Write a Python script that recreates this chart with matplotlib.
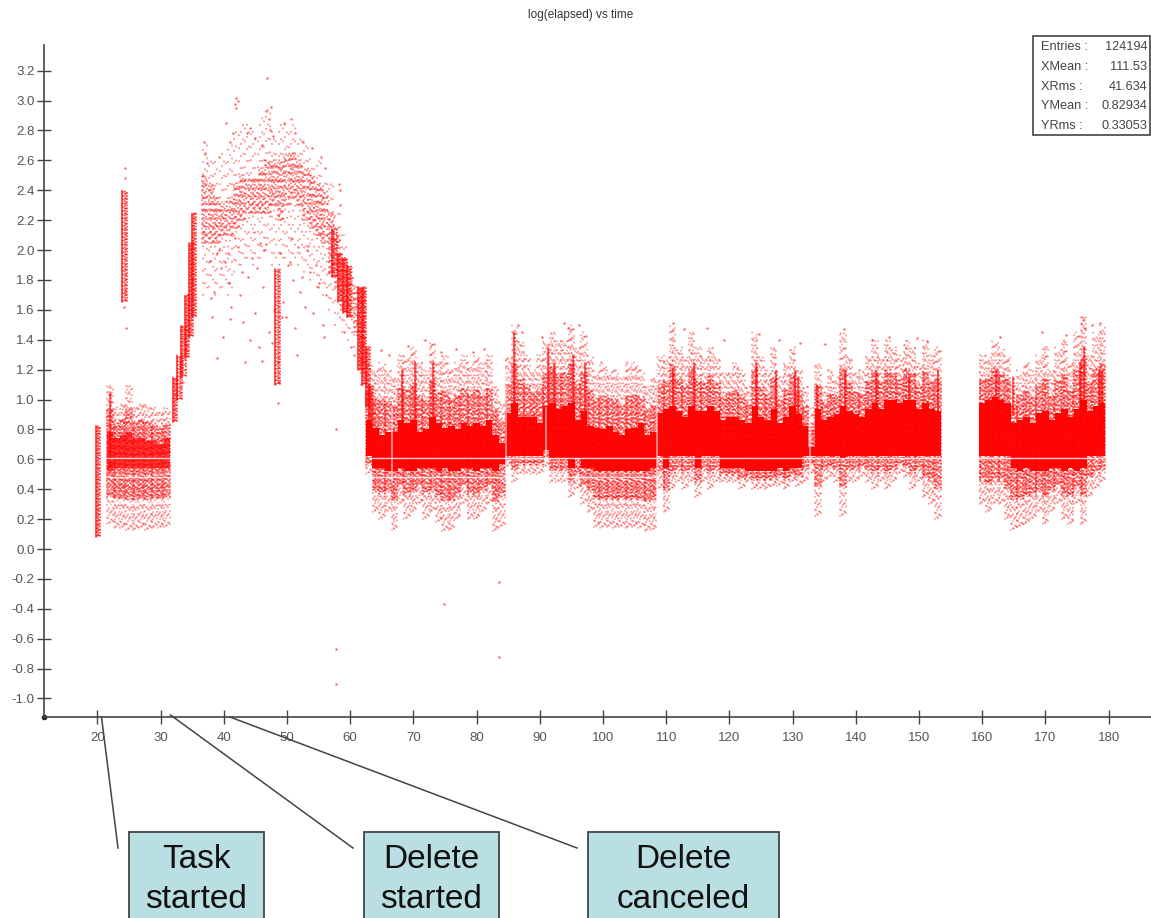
import numpy as np
import matplotlib
matplotlib.use("Agg")
import matplotlib.pyplot as plt
from matplotlib.patches import Rectangle
from matplotlib.lines import Line2D

W, H = 1151, 918
plt.rcParams['font.family'] = ['Liberation Sans', 'DejaVu Sans']

# The cloud has about 124000 points, far too many to read one by one, so the
# dense part is kept as column envelopes (per time unit),
# and the isolated points are listed on their own.
band_x = list(range(22, 32)) + list(range(63, 154)) + list(range(160, 180))
sparse_hi = [1.10, 0.95, 0.98, 1.10, 0.95, 0.98, 0.98, 0.95, 0.92, 0.95,
    1.25, 1.20, 1.25, 1.20, 1.15, 1.30, 1.30, 1.35, 1.25, 1.20, 1.38, 1.25, 1.30, 1.20, 1.25, 1.30, 1.25, 1.30, 1.25, 1.30, 1.10, 1.00,
    1.30, 1.50, 1.40, 1.30, 1.20, 1.30, 1.40, 1.45, 1.40, 1.40, 1.50, 1.35, 1.45, 1.30, 1.20, 1.25, 1.20, 1.20, 1.15, 1.25, 1.25, 1.20, 1.10, 1.15,
    1.30, 1.30, 1.50, 1.35, 1.30, 1.45, 1.35, 1.30, 1.35, 1.30, 1.20, 1.20, 1.25, 1.20, 1.10, 1.45, 1.30, 1.20, 1.35, 1.15, 1.25, 1.35, 1.20, 1.10, 0.95,
    1.25, 1.10, 1.20, 1.15, 1.45, 1.30, 1.20, 1.20, 1.30, 1.40, 1.30, 1.40, 1.35, 1.30, 1.40, 1.35, 1.25, 1.40, 1.30, 1.35,
    1.30, 1.30, 1.40, 1.35, 1.30, 1.10, 1.20, 1.25, 1.20, 1.30, 1.35, 1.20, 1.35, 1.40, 1.25, 1.45, 1.55, 1.30, 1.45, 1.50]
sparse_lo = [0.17, 0.14, 0.14, 0.13, 0.13, 0.14, 0.13, 0.14, 0.14, 0.15,
    0.50, 0.25, 0.20, 0.25, 0.13, 0.30, 0.20, 0.25, 0.30, 0.20, 0.25, 0.18, 0.12, 0.13, 0.20, 0.30, 0.20, 0.20, 0.25, 0.30, 0.12, 0.15,
    0.55, 0.45, 0.50, 0.50, 0.50, 0.50, 0.55, 0.45, 0.45, 0.45, 0.35, 0.40, 0.30, 0.25, 0.15, 0.14, 0.15, 0.14, 0.15, 0.14, 0.15, 0.14, 0.12, 0.13,
    0.40, 0.25, 0.40, 0.45, 0.40, 0.45, 0.35, 0.45, 0.40, 0.45, 0.45, 0.45, 0.45, 0.40, 0.45, 0.40, 0.40, 0.40, 0.42, 0.42, 0.40, 0.45, 0.42, 0.45, 0.50,
    0.22, 0.45, 0.48, 0.45, 0.22, 0.45, 0.45, 0.48, 0.45, 0.40, 0.45, 0.40, 0.45, 0.50, 0.48, 0.40, 0.45, 0.35, 0.30, 0.20,
    0.30, 0.25, 0.30, 0.30, 0.20, 0.13, 0.15, 0.17, 0.20, 0.25, 0.17, 0.25, 0.30, 0.20, 0.17, 0.30, 0.17, 0.35, 0.40, 0.45]
dense_hi = [0.78, 0.74, 0.76, 0.78, 0.74, 0.74, 0.72, 0.72, 0.70, 0.74,
    0.86, 0.81, 0.76, 0.78, 0.78, 0.86, 0.84, 0.86, 0.78, 0.80, 0.88, 0.84, 0.81, 0.82, 0.80, 0.84, 0.82, 0.84, 0.82, 0.86, 0.76, 0.71,
    0.91, 0.98, 0.88, 0.88, 0.88, 0.84, 0.96, 0.98, 0.94, 0.96, 0.98, 0.86, 0.92, 0.82, 0.81, 0.80, 0.82, 0.78, 0.76, 0.80, 0.81, 0.84, 0.76, 0.78,
    0.91, 0.94, 0.96, 0.92, 0.88, 0.96, 0.92, 0.92, 0.96, 0.92, 0.86, 0.88, 0.88, 0.86, 0.84, 0.96, 0.88, 0.86, 0.94, 0.84, 0.88, 0.96, 0.90, 0.82, 0.68,
    0.94, 0.86, 0.88, 0.90, 0.96, 0.92, 0.90, 0.88, 0.94, 0.98, 0.94, 1.00, 1.00, 0.98, 1.00, 1.00, 0.94, 0.98, 0.94, 0.92,
    0.98, 1.00, 1.02, 1.00, 0.98, 0.84, 0.86, 0.88, 0.84, 0.91, 0.92, 0.86, 0.91, 0.94, 0.88, 0.94, 1.00, 0.92, 0.96, 0.98]
dense_lo = [0.52, 0.54, 0.54, 0.54, 0.54, 0.54, 0.54, 0.54, 0.54, 0.54,
    0.62, 0.54, 0.54, 0.52, 0.52, 0.54, 0.52, 0.52, 0.54, 0.54, 0.54, 0.52, 0.54, 0.52, 0.52, 0.54, 0.54, 0.52, 0.54, 0.54, 0.52, 0.57,
    0.62, 0.62, 0.62, 0.62, 0.62, 0.62, 0.66, 0.61, 0.61, 0.61, 0.54, 0.61, 0.54, 0.54, 0.52, 0.52, 0.52, 0.52, 0.52, 0.52, 0.52, 0.52, 0.52, 0.54,
    0.62, 0.54, 0.62, 0.62, 0.62, 0.62, 0.54, 0.62, 0.62, 0.62, 0.54, 0.54, 0.54, 0.54, 0.52, 0.52, 0.52, 0.52, 0.52, 0.54, 0.52, 0.54, 0.54, 0.62, 0.62,
    0.62, 0.62, 0.62, 0.62, 0.61, 0.62, 0.62, 0.62, 0.62, 0.62, 0.62, 0.62, 0.62, 0.62, 0.62, 0.62, 0.62, 0.62, 0.62, 0.62,
    0.62, 0.62, 0.62, 0.62, 0.62, 0.54, 0.52, 0.54, 0.52, 0.52, 0.52, 0.54, 0.54, 0.52, 0.54, 0.52, 0.54, 0.62, 0.62, 0.62]

# dome between the delete start and the cancel
dome_x = list(range(37, 63))
dome_lo = [2.05, 2.05, 2.05, 2.10, 2.10, 2.15, 2.20, 2.25, 2.25, 2.25, 2.25, 2.30, 2.20, 2.30, 2.35, 2.30, 2.20, 2.15, 2.10, 2.05, 1.85, 1.75, 1.60, 1.55, 1.45, 1.20]
dome_hi = [2.50, 2.45, 2.35, 2.30, 2.35, 2.45, 2.50, 2.50, 2.50, 2.55, 2.60, 2.60, 2.60, 2.65, 2.65, 2.60, 2.55, 2.50, 2.45, 2.40, 2.25, 2.10, 1.95, 1.85, 1.75, 1.75]
dome_outer_lo = [1.70, 1.75, 1.70, 1.75, 1.70, 1.85, 1.90, 1.95, 1.90, 1.95, 2.00, 1.90, 1.90, 1.95, 1.90, 1.90, 1.85, 1.80, 1.75, 1.70, 1.60, 1.50, 1.45, 1.40, 1.35, 1.10]
dome_outer_hi = [2.72, 2.60, 2.60, 2.65, 2.70, 2.80, 2.85, 2.85, 2.80, 2.90, 2.95, 2.80, 2.85, 2.85, 2.85, 2.75, 2.70, 2.62, 2.60, 2.50, 2.45, 2.30, 2.10, 1.95, 1.80, 1.80]

# thick runs of packed points: ramps and blobs, each about a time unit wide
blob_x = [20.1, 24.3, 32.3, 33.0, 33.6, 34.2, 34.8, 35.3, 48.5, 57.5, 58.4, 59.2, 59.8, 61.6, 62.2, 62.8, 63.3]
blob_lo = [0.08, 1.65, 0.85, 1.00, 1.15, 1.28, 1.42, 1.55, 1.10, 1.82, 1.65, 1.58, 1.55, 1.20, 1.10, 0.95, 0.75]
blob_hi = [0.82, 2.40, 1.15, 1.30, 1.50, 1.70, 2.05, 2.25, 1.88, 2.15, 1.98, 1.95, 1.90, 1.75, 1.75, 1.35, 1.10]

# narrow streaks rising out of the band
spike_x = [22.0, 68.3, 70.4, 73.2, 86.0, 91.3, 92.3, 95.3, 97.3, 111.2, 114.5, 124.3, 127.4, 130.5, 131.0, 134.0, 138.3, 143.2, 148.5, 153.0, 162.3, 165.0, 175.6, 176.2, 178.5, 179.0]
spike_lo = [0.55, 0.80, 0.75, 0.80, 0.90, 0.80, 0.85, 0.85, 0.85, 0.90, 0.90, 0.90, 0.90, 0.85, 0.85, 0.85, 0.85, 0.90, 0.90, 0.80, 0.90, 0.90, 0.85, 0.90, 0.90, 0.85]
spike_hi = [1.05, 1.20, 1.25, 1.25, 1.45, 1.35, 1.25, 1.30, 1.25, 1.20, 1.25, 1.25, 1.20, 1.20, 1.15, 1.10, 1.20, 1.20, 1.15, 1.20, 1.20, 1.15, 1.25, 1.35, 1.20, 1.20]

# isolated points read one by one
lone_x = [57.7, 57.7, 83.5, 83.6, 74.8, 57.8, 24.3, 24.4, 24.5, 24.2, 24.3, 48.5, 48.7, 48.6, 42.0, 46.9, 47.4, 41.8, 41.9, 42.2, 40.4, 41.5, 46.6, 47.2, 47.3, 36.9, 37.1, 37.3,
    39.2, 40.9, 43.6, 44.2, 45.0, 46.1, 47.8, 49.5, 50.6, 51.3, 52.5, 53.9, 55.4, 56.0, 58.3, 58.4, 58.4,
    39.0, 40.2, 42.3, 44.5, 45.3, 46.7, 48.9, 50.4, 51.8, 53.1, 54.6, 56.7,
    38.4, 39.6, 40.8, 42.6, 43.9, 44.9, 46.2, 47.9, 49.4, 50.9, 52.1, 53.6, 55.1, 56.2,
    38.2, 39.8, 41.2, 43.1, 44.2, 45.5, 47.1, 49.8, 51.2, 52.9, 54.1, 55.7,
    37.8, 40.6, 42.9, 45.8, 50.1, 52.4, 54.9, 36.8, 39.3, 41.7, 44.7, 46.4, 50.7, 53.3, 55.2, 38.9, 43.4, 47.6, 51.6, 33.5, 49.2, 55.9, 46.0, 38.0, 41.0, 59.0, 60.2, 60.6,
    64.8, 66.2, 69.1, 71.8, 74.3, 76.7, 79.4, 81.2, 86.5, 87.2, 90.4, 93.8, 94.4, 96.2, 111.1, 112.8, 116.4, 119.2, 124.6, 127.8, 131.2, 135.1, 138.2, 142.6, 145.3, 149.6, 151.2, 162.8, 169.4, 173.2, 175.9, 177.4, 178.6, 176.2]
lone_y = [-0.67, -0.90, -0.22, -0.72, -0.37, 0.80, 2.55, 2.48, 1.48, 1.62, 1.72, 0.98, 1.12, 1.25, 3.02, 3.15, 2.96, 2.98, 2.95, 3.00, 2.85, 2.78, 2.93, 2.88, 2.80, 2.72, 2.65, 2.58,
    2.62, 2.72, 2.78, 2.82, 2.75, 2.70, 2.76, 2.85, 2.88, 2.78, 2.72, 2.68, 2.62, 2.55, 2.44, 2.40, 2.30,
    1.98, 1.92, 2.02, 1.95, 1.88, 2.04, 1.98, 1.92, 2.02, 2.00, 1.90, 1.85,
    1.72, 1.88, 1.78, 1.70, 1.82, 1.58, 1.75, 1.60, 1.65, 1.80, 1.72, 1.85, 1.78, 1.70,
    1.55, 1.42, 1.62, 1.52, 1.40, 1.35, 1.45, 1.55, 1.48, 1.62, 1.58, 1.50,
    1.93, 1.98, 1.85, 2.05, 1.90, 1.82, 1.75, 2.12, 2.00, 2.08, 2.12, 2.00, 2.08, 2.03, 2.10, 1.28, 1.25, 1.38, 1.30, 1.12, 1.55, 1.42, 1.26, 1.68, 1.54, 1.45, 1.35, 1.30,
    1.33, 1.30, 1.36, 1.40, 1.32, 1.34, 1.32, 1.34, 1.50, 1.45, 1.42, 1.51, 1.48, 1.50, 1.51, 1.47, 1.48, 1.40, 1.44, 1.40, 1.38, 1.37, 1.47, 1.40, 1.42, 1.41, 1.39, 1.42, 1.45, 1.43, 1.53, 1.50, 1.51, 1.48]

# horizontal gaps in the cloud: value, from, to
gap_y = [0.61, 0.61, 0.61, 0.48, 0.48, 0.31]
gap_from = [21.5, 63.0, 85.0, 21.5, 63.0, 21.5]
gap_to = [32.0, 85.0, 179.5, 32.0, 108.5, 32.0]
# vertical gaps in the cloud
slit_x = [66.6, 84.6, 91.0, 108.6, 132.8]
slit_lo = [0.45, 0.50, 0.60, 0.20, 0.30]
slit_hi = [0.95, 1.20, 0.95, 1.30, 1.25]

x_ticks = list(range(20, 190, 10))
y_ticks = [-1.0, -0.8, -0.6, -0.4, -0.2, 0.0, 0.2, 0.4, 0.6, 0.8, 1.0, 1.2, 1.4, 1.6, 1.8, 2.0, 2.2, 2.4, 2.6, 2.8, 3.0, 3.2]

stat_names = ['Entries :', 'XMean :', 'XRms :', 'YMean :', 'YRms :']
stat_values = ['124194', '111.53', '41.634', '0.82934', '0.33053']

callout_text = ['Task\nstarted', 'Delete\nstarted', 'Delete\ncanceled']
callout_left = [129, 364, 588]
callout_right = [264, 499, 779]
pointer_from = [(101.5, 717), (170.5, 715), (230, 717)]
pointer_to = [(118, 848), (353, 848), (577, 848)]


def fx(px):
    return px / W


def fy(py):
    return 1 - py / H


def stipple(ax, xs, lo, hi, n_sub=6, width=1.0, alpha=0.5, gap=3.0, lw=1.2):
    # dotted strokes across each column so the band reads as single dots
    xs = np.asarray(xs, dtype=float)
    steps = [0.0, 1.3, 0.5, 2.1, 0.9, 1.7, 0.2]
    for k in range(n_sub):
        off = ((k + 0.5) / n_sub - 0.5) * width
        pat = (k * 1.7, (0.25, gap + steps[k % 7]))
        ax.vlines(xs + off, lo, hi, color='#ff0000', linewidth=lw, alpha=alpha, linestyle=pat, capstyle='round')


fig = plt.figure(figsize=(W / 100, H / 100), dpi=100)
ax = fig.add_axes([fx(44), fy(717), fx(1151) - fx(44), fy(45) - fy(717)])
ax.set_xlim(11.55, 186.7)
ax.set_ylim(-1.124, 3.372)

band_lo = np.array(dense_lo)
band_hi = np.array(dense_hi)
thin_lo = np.array(sparse_lo)
thin_hi = np.array(sparse_hi)

# density falls off away from the core: thin outer dots, tighter dots nearer
stipple(ax, band_x, thin_lo, thin_hi, n_sub=7, alpha=0.45, gap=3.5)
stipple(ax, band_x, (band_lo + thin_lo) / 2, (band_hi + thin_hi) / 2, n_sub=7, alpha=0.65, gap=1.6)
stipple(ax, dome_x, dome_outer_lo, dome_outer_hi, n_sub=3, alpha=0.5, gap=7.0)
stipple(ax, dome_x, dome_lo, dome_hi, n_sub=6, alpha=0.6, gap=2.6)
stipple(ax, blob_x, blob_lo, blob_hi, n_sub=5, width=0.9, alpha=0.8, gap=0.7)

ax.bar(band_x[:10], band_hi[:10] - band_lo[:10], bottom=band_lo[:10], width=1.0, color='#ff0000', alpha=0.72, linewidth=0)
ax.bar(band_x[10:], band_hi[10:] - band_lo[10:], bottom=band_lo[10:], width=1.0, color='#ff0000', alpha=0.96, linewidth=0)
stipple(ax, spike_x, spike_lo, spike_hi, n_sub=2, width=0.3, alpha=0.7, gap=0.7)
ax.scatter(lone_x, lone_y, s=3, color='#ff0000', alpha=0.6, linewidths=0)
ax.hlines(gap_y, gap_from, gap_to, color='white', linewidth=1.0, alpha=0.8)
ax.vlines(slit_x, slit_lo, slit_hi, color='white', linewidth=1.2, alpha=0.6)

for side in ['top', 'right']:
    ax.spines[side].set_visible(False)
for side in ['left', 'bottom']:
    ax.spines[side].set_color('#444444')
    ax.spines[side].set_linewidth(1.2)
ax.set_xticks(x_ticks)
ax.set_yticks(y_ticks)
ax.set_yticklabels(['%.1f' % v for v in y_ticks])
ax.tick_params(axis='both', direction='inout', length=9.5, width=1.0, color='#444444', labelcolor='#555555', labelsize=9.5)
ax.tick_params(axis='x', pad=6)
ax.tick_params(axis='y', pad=2)
ax.plot([11.55], [-1.124], 'o', color='#222222', markersize=3, clip_on=False)

fig.text(fx(581), fy(15), 'log(elapsed) vs time', ha='center', va='center', fontsize=8.5, color='#333333')

# stats box
fig.add_artist(Rectangle((fx(1033), fy(135)), fx(1150) - fx(1033), fy(36) - fy(135), transform=fig.transFigure,
    facecolor='white', edgecolor='#444444', linewidth=1.2))
for i in range(len(stat_names)):
    py = 47.5 + i * 19.6
    fig.text(fx(1041), fy(py), stat_names[i], ha='left', va='center', fontsize=9.2, color='#444444')
    fig.text(fx(1147), fy(py), stat_values[i], ha='right', va='center', fontsize=9.2, color='#444444')

# callouts added on top of the chart
for i in range(len(callout_text)):
    p0, p1 = pointer_from[i], pointer_to[i]
    fig.add_artist(Line2D([fx(p0[0]), fx(p1[0])], [fy(p0[1]), fy(p1[1])], color='#444444', linewidth=1.1))
    left, right = callout_left[i], callout_right[i]
    fig.add_artist(Rectangle((fx(left), fy(930)), fx(right) - fx(left), fy(832) - fy(930), transform=fig.transFigure,
        facecolor='#badfe3', edgecolor='#444444', linewidth=1.3))
    lines = callout_text[i].split('\n')
    for j in range(len(lines)):
        fig.text(fx((left + right) / 2), fy(860 + j * 39), lines[j], ha='center', va='center', fontsize=24, color='#111111')

fig.savefig('out.png', dpi=100)
